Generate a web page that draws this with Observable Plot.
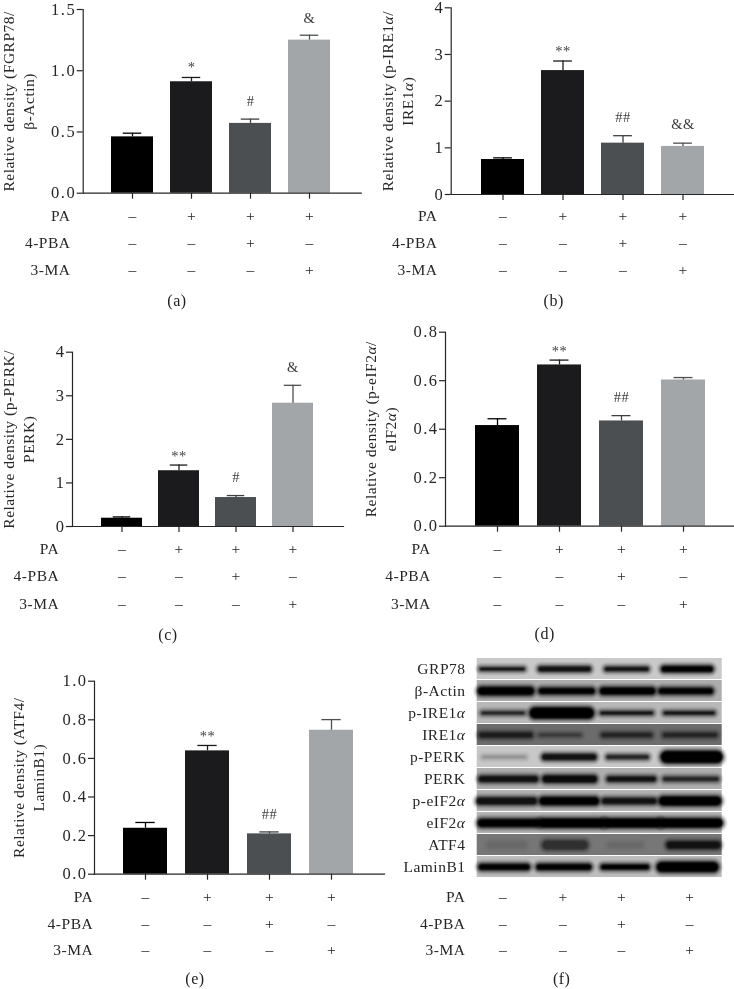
<!DOCTYPE html>
<html>
<head>
<meta charset="utf-8">
<script src="https://cdn.jsdelivr.net/npm/d3@7"></script>
<script src="https://cdn.jsdelivr.net/npm/@observablehq/plot@0.6"></script>
<style>
  html, body { margin: 0; padding: 0; background: #fff; }
  #page { position: relative; width: 734px; height: 989px; overflow: hidden; font-family: "Liberation Serif", serif; color: #222; }
  .panel { position: absolute; will-change: transform; }
  .panel svg { display: block; overflow: visible; letter-spacing: 0.5px; }
  .panel g[aria-label="y-axis tick label"] { letter-spacing: 1.5px; }
  .caption { position: absolute; font-size: 16px; line-height: 16px; letter-spacing: 0.5px; transform: translate(-50%, -50%); white-space: nowrap; }
  .blot g[aria-label="rule"] { filter: blur(1.2px); }
</style>
</head>
<body>
<div id="page"></div>
<script>
// ---------- data ----------
const groups = ["g1", "g2", "g3", "g4"];
const barColors = ["#000000", "#1b1b1d", "#4c4f52", "#a3a6a8"];
const errColors = ["#000000", "#1b1b1d", "#3c3f42", "#4c4f52"];
const rowNames = ["PA", "4-PBA", "3-MA"];
const flagsPA = ["–", "+", "+", "+"];
const flagsPBA = ["–", "–", "+", "–"];
const flagsMA = ["–", "–", "–", "+"];

const valuesA = [0.46, 0.91, 0.57, 1.25];
const errorsA = [0.49, 0.945, 0.605, 1.29];
const notesA = ["", "*", "#", "&"];
const noteYA = [0, 1.03, 0.749, 1.43];
const ticksA = [0, 0.5, 1, 1.5];

const valuesB = [0.75, 2.655, 1.1, 1.03];
const errorsB = [0.785, 2.86, 1.26, 1.1];
const notesB = ["", "**", "##", "&&"];
const noteYB = [0, 3.057, 1.656, 1.493];
const ticksB = [0, 1, 2, 3, 4];

const valuesC = [0.19, 1.28, 0.665, 2.83];
const errorsC = [0.22, 1.41, 0.71, 3.24];
const notesC = ["", "**", "#", "&"];
const noteYC = [0, 1.613, 1.131, 3.642];
const ticksC = [0, 1, 2, 3, 4];

const valuesD = [0.415, 0.665, 0.434, 0.603];
const errorsD = [0.443, 0.685, 0.456, 0.613];
const notesD = ["", "**", "##", ""];
const noteYD = [0, 0.722, 0.532, 0];
const ticksD = [0, 0.2, 0.4, 0.6, 0.8];

const valuesE = [0.238, 0.639, 0.209, 0.746];
const errorsE = [0.268, 0.667, 0.219, 0.801];
const notesE = ["", "**", "##", ""];
const noteYE = [0, 0.715, 0.31, 0];
const ticksE = [0, 0.2, 0.4, 0.6, 0.8, 1];

// Blot: rows, background gray, band extents (read in picture units), thickness, gray
const blotRows = ["GRP78", "β-Actin", "p-IRE1α", "IRE1α", "p-PERK", "PERK", "p-eIF2α", "eIF2α", "ATF4", "LaminB1"];
const blotBack = ["#c9c9c9", "#adadad", "#b8b8b8", "#6c6c6c", "#c8c8c8", "#aeaeae", "#b2b2b2", "#b6b6b6", "#777777", "#bdbdbd"];
const blotStart = [
  [183, 362, 560, 733], [185, 365, 550, 725], [188, 345, 545, 735], [185, 360, 550, 735], [190, 375, 565, 740],
  [185, 378, 568, 735], [180, 370, 555, 730], [185, 368, 560, 730], [210, 380, 570, 750], [185, 358, 550, 725]
];
const blotEnd = [
  [310, 505, 680, 870], [330, 515, 695, 870], [310, 505, 695, 880], [330, 480, 690, 885], [315, 520, 680, 890],
  [345, 520, 700, 890], [340, 525, 700, 890], [350, 545, 715, 895], [310, 490, 660, 890], [320, 505, 680, 880]
];
const blotThick = [
  [4, 6, 5, 7], [9, 7, 8, 7], [4, 12, 4, 4], [6, 3, 5, 5], [3, 7, 5, 13],
  [7, 8, 6, 5], [8, 9, 7, 10], [9, 10, 10, 10], [7, 10, 6, 8], [7, 7, 6, 11]
];
const blotShade = [
  ["#111", "#111", "#111", "#000"], ["#000", "#000", "#000", "#000"], ["#222", "#000", "#111", "#111"], ["#1c1c1c", "#333", "#222", "#222"], ["#8c8c8c", "#111", "#222", "#000"],
  ["#111", "#0a0a0a", "#111", "#222"], ["#111", "#000", "#111", "#000"], ["#000", "#000", "#000", "#000"], ["#686868", "#303030", "#696969", "#111"], ["#000", "#000", "#000", "#000"]
];
const blotFlagX = [248, 428, 603, 808];

// ---------- layout ----------
const serif = '"Liberation Serif", serif';
const ink = "#262626";
const fontSize = 15.5;
const tickFontSize = 16.5;
const noteFontSize = 14.5;

const panels = [
  { box: [0, 0, 367, 320], axis: 82.7, end: 360.7, top: 9, base: 192.7, c1: 131.7, c4: 309, bw: 42, labelR: 70, rows: [23.3, 50.3, 77.3],
    domain: [0, 1.5], ticks: ticksA, fmt: ".1f", values: valuesA, errors: errorsA, notes: notesA, noteY: noteYA,
    title: "Relative density (FGRP78/\nβ-Actin)", titleDx: -65.7, cap: "(a)", capX: 177, capY: 301 },
  { box: [367, 0, 367, 320], axis: 450.7, end: 733.7, top: 7.3, base: 194, c1: 501, c4: 683.7, bw: 43.3, labelR: 437, rows: [22, 49, 76],
    domain: [0, 4], ticks: ticksB, fmt: "d", values: valuesB, errors: errorsB, notes: notesB, noteY: noteYB,
    title: "Relative density (p-IRE1α/\nIRE1α)", titleDx: -54.3, cap: "(b)", capX: 553.7, capY: 301 },
  { box: [0, 320, 367, 335], axis: 72, end: 343, top: 351.7, base: 526, c1: 120, c4: 293.7, bw: 42, labelR: 58.7, rows: [22.7, 50, 77.3],
    domain: [0, 4], ticks: ticksC, fmt: "d", values: valuesC, errors: errorsC, notes: notesC, noteY: noteYC,
    title: "Relative density (p-PERK/\nPERK)", titleDx: -55, cap: "(c)", capX: 168, capY: 635 },
  { box: [367, 320, 367, 335], axis: 445, end: 733.7, top: 331.7, base: 525.7, c1: 497, c4: 684, bw: 44.7, labelR: 430.3, rows: [23, 50.3, 77.6],
    domain: [0, 0.8], ticks: ticksD, fmt: ".1f", values: valuesD, errors: errorsD, notes: notesD, noteY: noteYD,
    title: "Relative density (p-eIF2α/\neIF2α)", titleDx: -66, cap: "(d)", capX: 544.7, capY: 634 },
  { box: [0, 660, 400, 329], axis: 94, end: 384, top: 680.7, base: 873.7, c1: 145.3, c4: 331.3, bw: 44, labelR: 92.7, rows: [23, 50, 76.3],
    domain: [0, 1], ticks: ticksE, fmt: ".1f", values: valuesE, errors: errorsE, notes: notesE, noteY: noteYE,
    title: "Relative density (ATF4/\nLaminB1)", titleDx: -67, cap: "(e)", capX: 195, capY: 979 }
];
const blotPanel = { box: [400, 650, 334, 339], left: 476.7, right: 721.7, top: 657, base: 879, labelR: 465, rows: [17.7, 44.7, 71], cap: "(f)", capX: 561.7, capY: 979 };

const page = document.getElementById("page");

function place(svg, box, cls) {
  const div = document.createElement("div");
  div.className = "panel" + (cls ? " " + cls : "");
  div.style.left = box[0] + "px";
  div.style.top = box[1] + "px";
  div.appendChild(svg);
  page.appendChild(div);
}
function caption(text, x, y) {
  const d = document.createElement("div");
  d.className = "caption";
  d.style.left = x + "px";
  d.style.top = y + "px";
  d.textContent = text;
  page.appendChild(d);
}
const txt = { fontFamily: serif, fontSize, fill: ink };
const plotStyle = { fontFamily: serif, fontSize: fontSize + "px", color: ink, background: "transparent", overflow: "visible" };
const flagSets = [flagsPA, flagsPBA, flagsMA];

function barPanel(p) {
  const [bl, bt, bw, bh] = p.box;
  const step = (p.c4 - p.c1) / 3;
  const pad = (step - p.bw) / step;
  const rows = groups.map((g, i) => ({ g, v: p.values[i], e: p.errors[i], note: p.notes[i], ny: p.noteY[i] }));
  const flagRows = flagSets.map((flags, r) =>
    Plot.text(groups, { x: d => d, text: (d, i) => flags[i], frameAnchor: "bottom", lineAnchor: "middle", dy: p.rows[r], ...txt }));
  const rowLabels = rowNames.map((name, r) =>
    Plot.text([name], { text: d => d, frameAnchor: "bottom-left", textAnchor: "end", lineAnchor: "middle", dx: p.labelR - p.axis, dy: p.rows[r], ...txt }));
  const svg = Plot.plot({
    width: bw, height: bh,
    marginLeft: p.axis - bl, marginRight: bl + bw - p.end,
    marginTop: p.top - bt, marginBottom: bt + bh - p.base,
    style: plotStyle,
    x: { type: "band", domain: groups, range: [p.c1 - step / 2 - bl, p.c4 + step / 2 - bl], paddingInner: pad, paddingOuter: pad / 2, align: 0.5, label: null },
    y: { domain: p.domain, label: null },
    color: { domain: groups, range: barColors },
    marks: [
      Plot.barY(rows, { x: "g", y: "v", fill: "g" }),
      Plot.ruleX(rows, { x: "g", y1: "v", y2: "e", stroke: (d, i) => errColors[i], strokeWidth: 1.3 }),
      Plot.tickY(rows, { x: "g", y: "e", stroke: (d, i) => errColors[i], strokeWidth: 1.3, insetLeft: p.bw * 0.28, insetRight: p.bw * 0.28 }),
      Plot.text(rows.filter(d => d.note), { x: "g", y: "ny", text: "note", ...txt, fontSize: noteFontSize, fill: "#3c3c3c" }),
      Plot.frame({ anchor: "left", stroke: ink, strokeWidth: 1.2 }),
      Plot.frame({ anchor: "bottom", stroke: ink, strokeWidth: 1.2 }),
      Plot.axisY({ ticks: p.ticks, tickSize: 6, tickPadding: 1, tickFormat: d3.format(p.fmt), label: null, fontSize: tickFontSize, stroke: ink, strokeWidth: 1.2, fill: ink }),
      Plot.axisX({ tickSize: 6, label: null, fill: "none", stroke: ink, strokeWidth: 1.2 }),
      ...flagRows,
      ...rowLabels,
      Plot.text([p.title], { text: d => d, frameAnchor: "left", textAnchor: "middle", lineAnchor: "middle", rotate: -90, dx: p.titleDx, lineHeight: 1.3, ...txt })
    ]
  });
  place(svg, p.box);
  caption(p.cap, p.capX, p.capY);
}
panels.forEach(barPanel);

function drawBlot(p) {
  const [bl, bt, bw, bh] = p.box;
  const bands = blotRows.flatMap((row, r) => blotStart[r].map((s, l) => ({
    row, x1: s, x2: blotEnd[r][l], th: blotThick[r][l], shade: blotShade[r][l]
  })));
  const back = blotRows.map((row, r) => ({ row, tone: blotBack[r] }));
  const flagRows = flagSets.map((flags, r) =>
    Plot.text(blotFlagX, { x: d => d, text: (d, i) => flags[i], frameAnchor: "bottom", lineAnchor: "middle", dy: p.rows[r], ...txt }));
  const rowLabels = rowNames.map((name, r) =>
    Plot.text([name], { text: d => d, frameAnchor: "bottom-left", textAnchor: "end", lineAnchor: "middle", dx: p.labelR - p.left, dy: p.rows[r], ...txt }));
  const svg = Plot.plot({
    width: bw, height: bh,
    marginLeft: p.left - bl, marginRight: bl + bw - p.right,
    marginTop: p.top - bt, marginBottom: bt + bh - p.base,
    style: plotStyle,
    x: { domain: [170, 905], label: null, axis: null },
    y: { type: "band", domain: blotRows, padding: 0.04, label: null, axis: null },
    color: { type: "identity" },
    marks: [
      Plot.cell(back, { y: "row", fill: "tone" }),
      Plot.ruleY(bands, { y: "row", x1: "x1", x2: "x2", stroke: "shade", strokeWidth: d => d.th + 6, strokeOpacity: 0.3, strokeLinecap: "round" }),
      Plot.ruleY(bands, { y: "row", x1: "x1", x2: "x2", stroke: "shade", strokeWidth: "th", strokeLinecap: "round" }),
      Plot.text(blotRows, { y: d => d, text: d => d, frameAnchor: "left", textAnchor: "end", dx: p.labelR - p.left, ...txt }),
      ...flagRows,
      ...rowLabels
    ]
  });
  place(svg, p.box, "blot");
  caption(p.cap, p.capX, p.capY);
}
drawBlot(blotPanel);

// Italicise the Greek alpha, as in the figure's labels.
page.querySelectorAll("svg text, svg tspan").forEach(node => {
  if (node.childElementCount || !node.textContent.includes("α")) return;
  const parts = node.textContent.split("α");
  node.textContent = "";
  parts.forEach((part, i) => {
    if (part) node.appendChild(document.createTextNode(part));
    if (i < parts.length - 1) {
      const t = document.createElementNS("http://www.w3.org/2000/svg", "tspan");
      t.setAttribute("font-style", "italic");
      t.textContent = "α";
      node.appendChild(t);
    }
  });
});
</script>
</body>
</html>
